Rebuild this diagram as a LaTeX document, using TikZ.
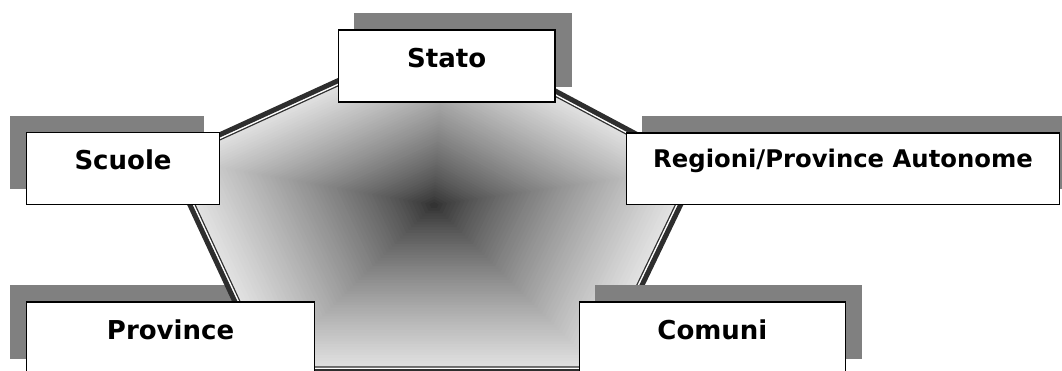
\documentclass[tikz,border=0pt]{standalone}
\usepackage{fontspec}
\setmainfont{DejaVu Sans}
\usepackage{tikz}
\usetikzlibrary{calc,positioning}
\pgfdeclarelayer{lowshadow}
\pgfdeclarelayer{pentagon}
\pgfdeclarelayer{highshadow}
\pgfsetlayers{lowshadow,pentagon,highshadow,main}
\definecolor{shadowgray}{HTML}{808080}
\definecolor{rimgray}{HTML}{2E2E2E}
\definecolor{pentdark}{HTML}{2C2C2C}
\definecolor{pentlight}{HTML}{E4E4E4}
\tikzset{
	levelbox/.style={draw,line width=1.4pt,fill=white,inner sep=0pt,minimum height=72pt,text height=20pt,text depth=17pt,font=\fontsize{26}{31}\selectfont\bfseries},
	boxshadow/.style={fill=shadowgray}
}

\begin{document}
\begin{tikzpicture}[x=1pt,y=-1pt]
		\useasboundingbox (0,0) rectangle (1062,370);
		\begin{scope}
			\node(stato) [levelbox,minimum width=216.6pt,anchor=north west] at (337.7,29.3) {Stato};
			\node(scuole) [levelbox,minimum width=193.3pt,anchor=north west] at (25.7,131.7) {Scuole};
			\node(regioni) [levelbox,minimum width=433.3pt,minimum height=71.7pt,text height=18pt,text depth=20.9pt,font=\fontsize{24.3}{29}\selectfont\bfseries,anchor=north west] at (625.7,132.3) {Regioni/Province Autonome};
			\node(province) [levelbox,minimum width=288.3pt,below=96pt of scuole.south west,anchor=north west] {Province};
			\node(comuni) [levelbox,minimum width=266pt,right=263.3pt of province.north east,anchor=north west] {Comuni};

			\begin{pgfonlayer}{lowshadow}
				\fill[boxshadow] ([shift={(-16,-16)}]scuole.south west) rectangle ([shift={(-16,-16)}]scuole.north east);
				\fill[boxshadow] ([shift={(-16,-16)}]province.south west) rectangle ([shift={(-16,-16)}]province.north east);
			\end{pgfonlayer}
			\begin{pgfonlayer}{highshadow}
				\fill[boxshadow] ([shift={(16,-16)}]stato.south west) rectangle ([shift={(16,-16)}]stato.north east);
				\fill[boxshadow] ([shift={(16,-16)}]regioni.south west) rectangle ([shift={(16,-16)}]regioni.north east);
				\fill[boxshadow] ([shift={(16,-16)}]comuni.south west) rectangle ([shift={(16,-16)}]comuni.north east);
			\end{pgfonlayer}

			\begin{pgfonlayer}{pentagon}
				\coordinate (ctr) at (434,205);
				\coordinate (ptop) at (444.5,32);
				\coordinate (pur) at (698.6,167.3);
				\coordinate (plr) at (600.5,371.6);
				\coordinate (pll) at (267.4,371.6);
				\coordinate (pul) at (168.3,158.3);
				\begin{scope}
					\clip (ptop) -- (pur) -- (plr) -- (pll) -- (pul) -- cycle;
					\foreach \i in {60,59,...,1}{
						\pgfmathsetmacro\lvl{\i/60}
						\pgfmathsetmacro\pct{100*pow(\lvl,0.8)}
						\fill[pentlight!\pct!pentdark] ($(ctr)!\lvl!(ptop)$) -- ($(ctr)!\lvl!(pur)$) -- ($(ctr)!\lvl!(plr)$) -- ($(ctr)!\lvl!(pll)$) -- ($(ctr)!\lvl!(pul)$) -- cycle;
					}
					\draw[rimgray,line width=10.6pt] (ptop) -- (pur) -- (plr) -- (pll) -- (pul) -- cycle;
					\draw[white,line width=8pt] (ptop) -- (pur) -- (plr) -- (pll) -- (pul) -- cycle;
				\end{scope}
				\draw[rimgray,line width=5pt] (ptop) -- (pur) -- (plr) -- (pll) -- (pul) -- cycle;
			\end{pgfonlayer}
		\end{scope}
	\end{tikzpicture}
\end{document}
